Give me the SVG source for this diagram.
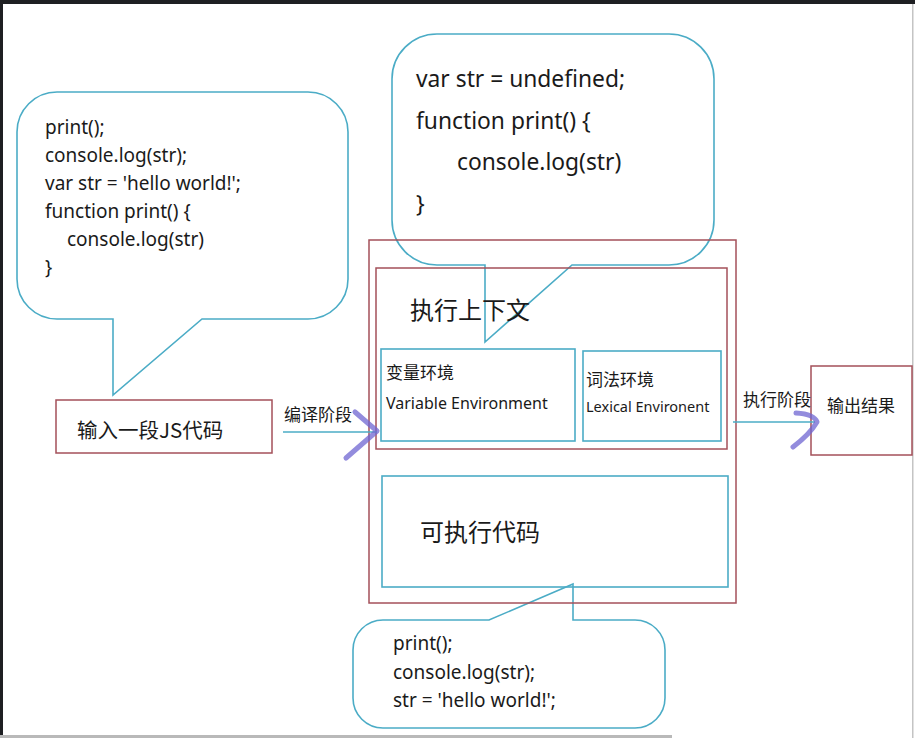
<svg xmlns="http://www.w3.org/2000/svg" width="915" height="738" viewBox="0 0 915 738">
  <style>
    .bubble { fill: none; stroke: #4bacc6; stroke-width: 1.6; }
    .teal { fill: none; stroke: #4bacc6; stroke-width: 1.6; }
    .red { fill: none; stroke: #a4505a; stroke-width: 1.5; }
    .code { font-family: "Noto Sans", "Open Sans", sans-serif; fill: #1a1a1a; }
    .cjk { font-family: "Noto Sans CJK SC", "Noto Sans", sans-serif; fill: #1a1a1a; }
    .pen { fill: none; stroke: #6f66d2; stroke-width: 5; stroke-linecap: round; stroke-linejoin: round; opacity: 0.75; }
  </style>
  <rect x="0" y="0" width="915" height="738" fill="#ffffff"/>
  <rect x="0" y="0" width="915" height="4" fill="#1e1f22"/>
  <rect x="0" y="0" width="3" height="738" fill="#1e1f22"/>
  <rect x="912" y="4" width="1.5" height="734" fill="#c4c4c4"/>
  <rect x="0" y="735" width="672" height="3" fill="#b9b9b9"/>

  <g id="bubble-source">
    <path class="bubble" d="M57,92 H308 A40,40 0 0 1 348,132 V279 A40,40 0 0 1 308,319 H202 L113,395 V319 H57 A40,40 0 0 1 17,279 V132 A40,40 0 0 1 57,92 Z"/>
    <text class="code" font-size="19" x="45" y="134">print();</text>
    <text class="code" font-size="19" x="45" y="162">console.log(str);</text>
    <text class="code" font-size="19" x="45" y="190">var str = 'hello world!';</text>
    <text class="code" font-size="19" x="45" y="218">function print() {</text>
    <text class="code" font-size="19" x="67" y="246">console.log(str)</text>
    <text class="code" font-size="19" x="45" y="274">}</text>
  </g>

  <g id="bubble-hoisted">
    <path class="bubble" d="M437,34 H669 A45,45 0 0 1 714,79 V220 A45,45 0 0 1 669,265 H572 L485,342 V265 H437 A45,45 0 0 1 392,220 V79 A45,45 0 0 1 437,34 Z"/>
    <text class="code" font-size="22.8" x="416" y="87">var str = undefined;</text>
    <text class="code" font-size="22.8" x="416" y="129">function print() {</text>
    <text class="code" font-size="22.8" x="457" y="170">console.log(str)</text>
    <text class="code" font-size="22.8" x="416" y="212">}</text>
  </g>

  <g id="bubble-executable">
    <path class="bubble" d="M383,620 H489 L573,584 V620 H635 A30,30 0 0 1 665,650 V698 A30,30 0 0 1 635,728 H383 A30,30 0 0 1 353,698 V650 A30,30 0 0 1 383,620 Z"/>
    <text class="code" font-size="19" x="393" y="650">print();</text>
    <text class="code" font-size="19" x="393" y="679">console.log(str);</text>
    <text class="code" font-size="19" x="393" y="707">str = 'hello world!';</text>
  </g>

  <g id="input-code">
    <rect class="red" x="56" y="400" width="216" height="53"/>
    <text class="cjk" font-size="20.5" x="77" y="438">输入一段JS代码</text>
  </g>

  <g id="engine">
    <rect class="red" x="369" y="240" width="367" height="363"/>
  </g>

  <g id="execution-context">
    <rect class="red" x="376" y="268" width="351" height="181"/>
    <text class="cjk" font-size="24" x="410" y="319">执行上下文</text>
  </g>

  <g id="variable-environment">
    <rect class="teal" x="381" y="349" width="194" height="92"/>
    <text class="cjk" font-size="17" x="386" y="379">变量环境</text>
    <text class="code" font-size="16" x="386" y="409">Variable Environment</text>
  </g>

  <g id="lexical-environment">
    <rect class="teal" x="583" y="351" width="138" height="90"/>
    <text class="cjk" font-size="17" x="586" y="386">词法环境</text>
    <text class="code" font-size="14.5" x="586" y="412">Lexical Environent</text>
  </g>

  <g id="executable-code">
    <rect class="teal" x="382" y="476" width="346" height="111"/>
    <text class="cjk" font-size="24" x="420" y="541">可执行代码</text>
  </g>

  <g id="output">
    <rect class="red" x="811" y="366" width="101" height="89"/>
    <text class="cjk" font-size="17" x="827" y="412">输出结果</text>
  </g>

  <g id="connectors">
    <line class="teal" x1="283" y1="432" x2="377" y2="432"/>
    <text class="cjk" font-size="17" x="284" y="421">编译阶段</text>
    <path class="pen" d="M355,412 L377,431 L346,458"/>
    <line class="teal" x1="733" y1="422" x2="815" y2="422"/>
    <text class="cjk" font-size="17" x="743" y="406">执行阶段</text>
    <path class="pen" d="M796,413 Q814,414 817,422 Q810,434 793,447"/>
  </g>
</svg>
